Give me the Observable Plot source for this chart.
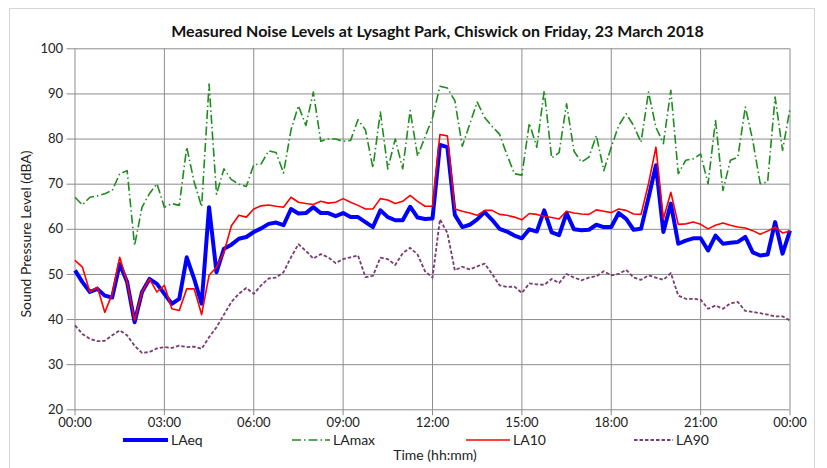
<!DOCTYPE html>
<html>
<head>
<meta charset="utf-8">
<script src="https://cdn.jsdelivr.net/npm/d3@7"></script>
<script src="https://cdn.jsdelivr.net/npm/@observablehq/plot@0.6"></script>
<style>
  html, body { margin: 0; padding: 0; background: #fff; }
  #wrap { position: relative; width: 827px; height: 468px; overflow: hidden; font-family: Lato, "Open Sans", sans-serif; color: #222; }
  #frame { position: absolute; left: 9px; top: 8px; width: 806px; height: 480px; border: 1px solid #d4d4d4; box-sizing: border-box; }
  #title { position: absolute; left: 0; width: 875px; top: 21px; text-align: center; font-weight: bold; font-size: 16px; color: #111; }
  #ylab { position: absolute; left: 25px; top: 234px; transform: translate(-50%, -50%) rotate(-90deg); font-size: 14px; white-space: nowrap; color: #222; }
  #xlab { position: absolute; left: 435px; top: 447px; line-height: 15px; transform: translateX(-50%); font-size: 14px; white-space: nowrap; color: #222; }
  .leg { position: absolute; top: 433px; height: 14px; line-height: 14px; font-size: 14px; display: flex; align-items: center; white-space: nowrap; color: #222; }
  .leg svg { margin-right: 3px; }
  #chart { position: absolute; left: 0; top: 0; }
</style>
</head>
<body>
<div id="wrap">
  <div id="frame"></div>
  <div id="chart"></div>
  <div id="title">Measured Noise Levels at Lysaght Park, Chiswick on Friday, 23 March 2018</div>
  <div id="ylab">Sound Pressure Level (dBA)</div>
  <div id="legend"></div>
  <div id="xlab">Time (hh:mm)</div>
</div>
<script>
// 15-minute intervals from 00:00 to 24:00 (97 samples)
const LAeq = [50.9,48.3,46.1,46.8,45.3,44.9,52.3,48.3,39.4,46.1,49.0,47.9,45.7,43.5,44.6,
  53.8,49.0,43.5,64.9,50.5,55.7,56.6,57.9,58.3,59.4,60.2,61.2,61.5,
  60.9,64.5,63.5,63.6,64.9,63.6,63.6,62.9,63.6,62.7,62.7,61.6,60.5,64.2,62.7,62.0,62.0,65.0,62.6,62.3,62.4,
  78.7,78.2,63.2,60.5,61.0,62.2,63.8,62.1,60.1,59.5,58.6,58.0,60.0,59.5,64.2,59.3,58.7,63.6,60.0,59.8,59.9,
  61.0,60.5,60.5,63.6,62.3,59.9,60.1,67.0,74.2,59.4,65.7,56.8,57.5,58.0,58.0,55.3,58.6,56.8,57.0,57.2,
  58.3,54.9,54.2,54.4,61.6,54.6,59.7];
const LAmax = [67.1,65.4,67.1,67.4,67.9,68.6,72.3,73.0,56.4,64.9,67.9,70.1,64.9,65.7,65.3,
  78.2,70.5,65.0,92.2,67.8,73.4,71.0,70.0,69.5,74.3,74.5,77.4,77.0,
  72.5,82.0,87.4,83.0,90.4,79.5,80.0,80.0,79.5,79.7,84.3,82.0,73.6,86.0,73.4,80.0,73.4,86.3,76.2,80.5,84.7,
  91.7,91.3,88.5,78.4,83.3,88.2,84.8,82.8,81.1,76.5,72.3,72.0,83.5,78.2,90.7,75.8,77.0,87.8,77.3,74.9,76.0,
  80.8,73.0,78.2,83.0,85.6,83.0,79.3,90.4,82.6,79.0,90.8,72.3,75.3,75.6,76.7,70.1,84.1,68.6,75.3,76.0,
  87.1,79.7,70.1,70.5,89.3,77.5,86.7];
const LA10 = [53.1,51.6,46.1,47.2,41.6,45.7,53.8,48.3,39.8,46.1,49.0,46.1,47.6,42.4,42.0,
  46.8,46.8,41.1,49.8,51.6,54.9,60.8,63.1,62.7,64.5,65.2,65.4,65.1,
  64.9,67.1,66.0,65.7,65.5,66.2,65.8,66.0,66.8,66.0,65.3,64.5,64.5,66.8,66.5,65.7,66.2,67.5,66.2,65.1,65.1,
  81.0,80.7,64.5,64.0,63.6,63.1,64.2,64.2,63.3,63.1,62.7,62.1,63.5,63.3,62.9,62.6,62.3,64.0,63.6,63.4,63.3,
  64.3,64.0,63.7,64.5,64.2,63.4,63.3,70.1,78.2,62.3,68.2,61.1,61.2,61.6,61.1,60.1,60.9,61.4,60.9,60.5,
  60.3,59.7,58.9,59.6,60.5,59.2,59.6];
const LA90 = [38.7,36.8,35.7,35.2,35.3,36.5,37.6,36.5,34.2,32.6,32.8,33.6,33.9,33.7,34.2,
  33.9,34.0,33.5,36.1,38.3,41.1,43.9,45.7,47.0,45.7,47.6,49.1,49.3,
  50.5,53.8,56.7,55.2,53.5,54.5,53.8,52.5,53.4,53.8,54.2,49.4,49.7,53.7,53.4,52.1,54.7,55.9,54.4,50.7,49.3,
  62.2,59.2,50.9,51.7,51.1,51.8,52.4,50.1,47.6,47.2,47.3,45.9,48.0,47.8,47.7,49.0,48.1,50.1,49.3,48.7,49.3,
  49.6,50.7,49.8,50.1,51.0,49.3,48.8,49.8,49.3,48.8,50.3,45.3,44.6,44.6,44.4,42.4,43.1,42.4,43.6,43.9,
  41.9,41.7,41.4,41.1,40.7,40.7,39.8];

const seriesNames = ["LAeq", "LAmax", "LA10", "LA90"];
const xTickValues = [0, 3, 6, 9, 12, 15, 18, 21, 24];
const xTickLabels = ["00:00","03:00","06:00","09:00","12:00","15:00","18:00","21:00","00:00"];
const yTickValues = [20, 30, 40, 50, 60, 70, 80, 90, 100];

const hours = d3.range(LAeq.length).map(i => i * 0.25);
const toRows = vals => vals.map((v, i) => ({h: hours[i], v}));

const styles = {
  LAeq:  {stroke: "#0000ff", strokeWidth: 4, dash: null},
  LAmax: {stroke: "#1e8c1e", strokeWidth: 1.6, dash: "9,3,1.5,3"},
  LA10:  {stroke: "#ff0000", strokeWidth: 1.6, dash: null},
  LA90:  {stroke: "#7a3a72", strokeWidth: 1.8, dash: "3.5,2"}
};
const data = {LAeq, LAmax, LA10, LA90};

const lineMarks = seriesNames.map(n => Plot.line(toRows(data[n]), {
  x: "h", y: "v", stroke: styles[n].stroke, strokeWidth: styles[n].strokeWidth,
  strokeDasharray: styles[n].dash || undefined, strokeLinejoin: "round", strokeLinecap: "butt"
}));

const chart = Plot.plot({
  width: 827, height: 468,
  marginLeft: 74.5, marginRight: 37.5, marginTop: 48.3, marginBottom: 58.7,
  style: {fontFamily: "Lato, 'Open Sans', sans-serif", fontSize: "13px", color: "#222", background: "transparent"},
  x: {domain: [0, 24]},
  y: {domain: [20, 100]},
  marks: [
    Plot.gridX(xTickValues, {stroke: "#8c8c8c", strokeOpacity: 1, strokeWidth: 1}),
    Plot.gridY(yTickValues, {stroke: "#8c8c8c", strokeOpacity: 1, strokeWidth: 1}),
    Plot.axisX({ticks: xTickValues, tickFormat: d => xTickLabels[xTickValues.indexOf(d)], tickSize: 6, tickPadding: 2, stroke: "#8c8c8c", label: null, fontSize: 13}),
    Plot.axisY({ticks: yTickValues, tickSize: 8, tickPadding: 4, stroke: "#8c8c8c", label: null, fontSize: 13}),
    ...lineMarks
  ]
});
document.getElementById("chart").appendChild(chart);

// legend
const legendPos = {LAeq: [123, 45], LAmax: [292, 38], LA10: [466, 44], LA90: [634, 39]};
const legend = document.getElementById("legend");
seriesNames.forEach(n => {
  const [x, w] = legendPos[n];
  const s = styles[n];
  const item = document.createElement("div");
  item.className = "leg";
  item.style.left = x + "px";
  item.innerHTML = `<svg width="${w}" height="14"><line x1="0" x2="${w}" y1="7" y2="7" stroke="${s.stroke}" stroke-width="${s.strokeWidth}" ${s.dash ? `stroke-dasharray="${s.dash}"` : ""}/></svg><span>${n}</span>`;
  legend.appendChild(item);
});
</script>
</body>
</html>
